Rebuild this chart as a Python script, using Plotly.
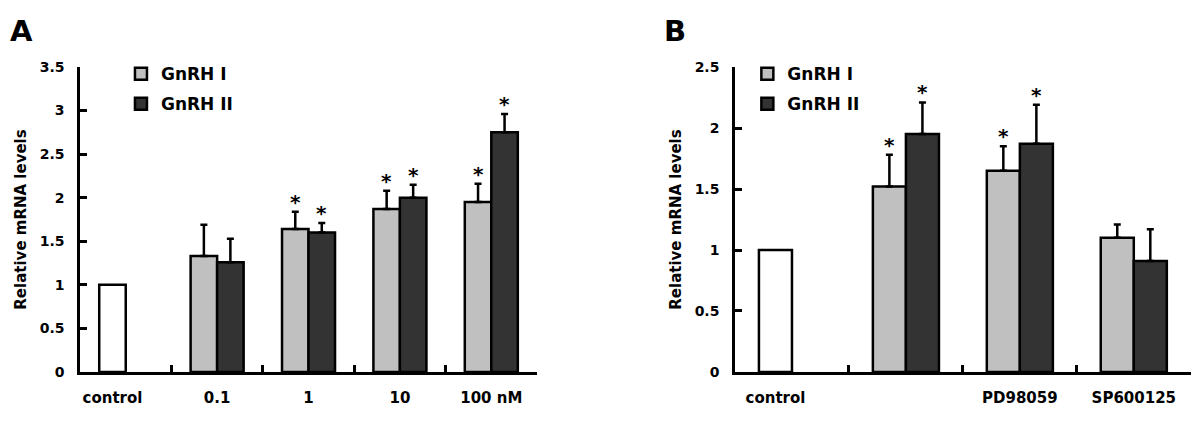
import plotly.graph_objects as go

# ---------------- data ----------------
A_labels = ["control", "0.1", "1", "10", "100 nM"]
A_control = [1.0]
A_gnrh1 = [1.33, 1.64, 1.87, 1.95]
A_gnrh1_err = [0.36, 0.20, 0.21, 0.21]
A_gnrh2 = [1.26, 1.60, 2.00, 2.75]
A_gnrh2_err = [0.27, 0.11, 0.15, 0.21]
A_star1 = [False, True, True, True]
A_star2 = [False, True, True, True]

B_labels = ["control", "", "PD98059", "SP600125"]
B_control = [1.0]
B_gnrh1 = [1.52, 1.65, 1.10]
B_gnrh1_err = [0.26, 0.20, 0.11]
B_gnrh2 = [1.95, 1.87, 0.91]
B_gnrh2_err = [0.26, 0.32, 0.26]
B_star1 = [True, True, False]
B_star2 = [True, True, False]

series_names = ["GnRH I", "GnRH II"]

# ---------------- style ----------------
FONT = "DejaVu Sans"
GREY = "#c0c0c0"
DARK = "#333333"
LW = 2.5
BW = 0.29


def f(size):
    return dict(family=FONT, size=size, color="black", weight="bold")


fig = go.Figure()


def panel(xa, ya, legend, labels, control, g1, e1, g2, e2, s1, s2):
    xs = list(range(1, len(labels)))
    fig.add_trace(go.Bar(x=[0], y=control, width=BW, offset=-BW,
                         marker=dict(color="white", line=dict(color="black", width=LW)),
                         showlegend=False, xaxis=xa, yaxis=ya, hoverinfo="skip"))
    for name, vals, errs, col, off in [(series_names[0], g1, e1, GREY, -BW),
                                       (series_names[1], g2, e2, DARK, 0.0)]:
        fig.add_trace(go.Bar(x=xs, y=vals, width=BW, offset=off, name=name,
                             legend=legend, legendgroup=name,
                             marker=dict(color=col, line=dict(color="black", width=LW)),
                             error_y=dict(type="data", symmetric=False, array=errs,
                                          arrayminus=[0] * len(errs), color="black",
                                          thickness=LW, width=3.5),
                             xaxis=xa, yaxis=ya))
    xref = "x" if xa == "x" else "x2"
    yref = "y" if ya == "y" else "y2"
    for vals, errs, stars, off in [(g1, e1, s1, -BW / 2), (g2, e2, s2, BW / 2)]:
        for x, v, e, s in zip(xs, vals, errs, stars):
            if s:
                fig.add_annotation(x=x + off, y=v + e, xref=xref, yref=yref, text="*",
                                   showarrow=False, yanchor="bottom", yshift=-4,
                                   font=f(20))


panel("x", "y", "legend", A_labels, A_control, A_gnrh1, A_gnrh1_err,
      A_gnrh2, A_gnrh2_err, A_star1, A_star2)
panel("x2", "y2", "legend2", B_labels, B_control, B_gnrh1, B_gnrh1_err,
      B_gnrh2, B_gnrh2_err, B_star1, B_star2)


def xaxis_cfg(labels, domain, anchor):
    tv = [i if i > 0 else -BW / 2 for i in range(len(labels))]
    return dict(domain=domain, range=[-0.5, len(labels) - 0.5], tickmode="array",
                tickvals=tv, ticktext=labels, ticks="inside", ticklen=0, tickwidth=0,
                showgrid=False, zeroline=False, anchor=anchor, automargin=False,
                showline=True, linecolor="black", linewidth=LW,
                tickfont=f(15), ticklabelstandoff=10,
                minor=dict(tick0=0.5, dtick=1, ticks="inside", ticklen=7,
                           tickwidth=LW, tickcolor="black", showgrid=False))


def yaxis_cfg(rng, anchor):
    return dict(domain=[0.1185, 0.8412], range=rng, dtick=0.5,
                ticks="inside", ticklen=7, tickwidth=LW, tickcolor="black",
                showline=True, linecolor="black", linewidth=LW, showgrid=False,
                zeroline=False, anchor=anchor, ticklabelstandoff=10, automargin=False,
                tickfont=f(14),
                title=dict(text="Relative mRNA levels", standoff=10, font=f(15)))


legend_common = dict(font=f(17), bgcolor="rgba(0,0,0,0)",
                     traceorder="grouped", tracegroupgap=5, xanchor="left", yanchor="top",
                     itemclick=False)

fig.update_layout(
    template="none",
    width=1200, height=422, margin=dict(l=0, r=0, t=0, b=0, autoexpand=False),
    plot_bgcolor="white", paper_bgcolor="white", barmode="overlay",
    xaxis=xaxis_cfg(A_labels, [0.0667, 0.4475], "y"),
    xaxis2=xaxis_cfg(B_labels, [0.6125, 0.9923], "y2"),
    yaxis=yaxis_cfg([0, 3.5], "x"),
    yaxis2=yaxis_cfg([0, 2.5], "x2"),
    legend=dict(x=0.1008, y=0.867, **legend_common),
    legend2=dict(x=0.6228, y=0.867, **legend_common),
    font=dict(family=FONT, color="black"),
)

for txt, xp in [("A", 8 / 1200), ("B", 662 / 1200)]:
    fig.add_annotation(x=xp, y=1 - 12 / 422, xref="paper", yref="paper", text=txt,
                       showarrow=False, xanchor="left", yanchor="top", font=f(29))

fig.write_html("out.html", config={"displayModeBar": False},
               post_script="document.body.style.margin='0';")
